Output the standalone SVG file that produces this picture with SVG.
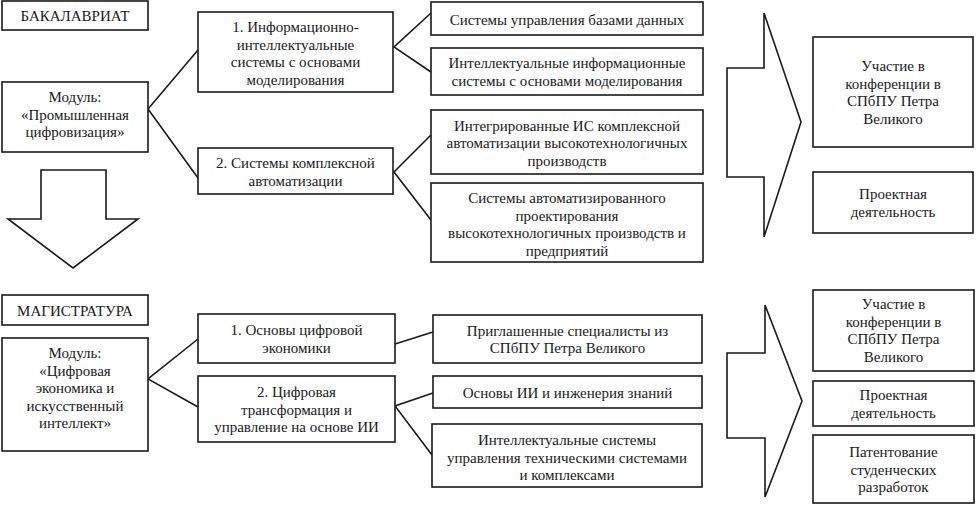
<svg xmlns="http://www.w3.org/2000/svg" width="976" height="521" viewBox="0 0 976 521">
<style>
.b{fill:#fff;stroke:#1a1a1a;stroke-width:1.6}
.a{fill:#fff;stroke:#1a1a1a;stroke-width:1.6;stroke-linejoin:miter}
.c{fill:none;stroke:#1a1a1a;stroke-width:1.6}
text{font-family:"Liberation Serif","Times New Roman",serif;font-size:15px;fill:#1a1a1a;text-anchor:middle}
</style>
<rect width="976" height="521" fill="#fff"/>
<g id="connectors">
<polyline class="c" points="198,50 148,109 198,178"/>
<polyline class="c" points="431,13 394,47 431,72"/>
<polyline class="c" points="431,135 394,172 431,220"/>
<polyline class="c" points="198,339 148,379 198,407"/>
<polyline class="c" points="433,332 395,344"/>
<polyline class="c" points="433,393 395,406 432,455"/>
</g>
<g id="arrow-down"><polygon class="a" points="41,170 106,170 106,219 138,219 73,268 8,219 41,219"/></g>
<g id="arrow-right-1"><polygon class="a" points="727,68 764,68 764,13 801,122 764,237 764,177 727,177"/></g>
<g id="arrow-right-2"><polygon class="a" points="727,353 765,353 765,305 802,401 765,497 765,438 727,438"/></g>
<g id="bak"><rect class="b" x="2" y="1" width="146" height="29"/><text x="75" y="21">БАКАЛАВРИАТ</text></g>
<g id="mod1"><rect class="b" x="2" y="82" width="146" height="70"/><text x="75" y="102">Модуль:</text><text x="75" y="119.5">«Промышленная</text><text x="75" y="137">цифровизация»</text></g>
<g id="b1"><rect class="b" x="198" y="12" width="195" height="80"/><text x="295.5" y="32">1. Информационно-</text><text x="295.5" y="49.5">интеллектуальные</text><text x="295.5" y="67">системы с основами</text><text x="295.5" y="84.5">моделирования</text></g>
<g id="b2"><rect class="b" x="198" y="148" width="195" height="46"/><text x="295.5" y="168">2. Системы комплексной</text><text x="295.5" y="185.5">автоматизации</text></g>
<g id="r1"><rect class="b" x="431" y="2" width="272" height="33"/><text x="567" y="24.5">Системы управления базами данных</text></g>
<g id="r2"><rect class="b" x="431" y="48" width="272" height="47"/><text x="567" y="68">Интеллектуальные информационные</text><text x="567" y="85.5">системы с основами моделирования</text></g>
<g id="r3"><rect class="b" x="431" y="110" width="272" height="64"/><text x="567" y="130.5">Интегрированные ИС комплексной</text><text x="567" y="148">автоматизации высокотехнологичных</text><text x="567" y="165.5">производств</text></g>
<g id="r4"><rect class="b" x="431" y="183" width="272" height="79"/><text x="567" y="203">Системы автоматизированного</text><text x="567" y="220.5">проектирования</text><text x="567" y="238">высокотехнологичных производств и</text><text x="567" y="255.5">предприятий</text></g>
<g id="o1"><rect class="b" x="813" y="37" width="160" height="110"/><text x="893" y="71">Участие в</text><text x="893" y="88.5">конференции в</text><text x="893" y="106">СПбПУ Петра</text><text x="893" y="123.5">Великого</text></g>
<g id="o2"><rect class="b" x="813" y="172" width="160" height="61"/><text x="893" y="199">Проектная</text><text x="893" y="216.5">деятельность</text></g>
<g id="mag"><rect class="b" x="2" y="295" width="146" height="30"/><text x="75" y="315.5">МАГИСТРАТУРА</text></g>
<g id="mod2"><rect class="b" x="2" y="338" width="146" height="113"/><text x="75" y="358">Модуль:</text><text x="75" y="375.5">«Цифровая</text><text x="75" y="393">экономика и</text><text x="75" y="410.5">искусственный</text><text x="75" y="428">интеллект»</text></g>
<g id="m1"><rect class="b" x="198" y="314" width="197" height="49"/><text x="296.5" y="335">1. Основы цифровой</text><text x="296.5" y="352.5">экономики</text></g>
<g id="m2"><rect class="b" x="198" y="376" width="197" height="66"/><text x="296.5" y="397">2. Цифровая</text><text x="296.5" y="414.5">трансформация и</text><text x="296.5" y="432">управление на основе ИИ</text></g>
<g id="s1"><rect class="b" x="433" y="315" width="269" height="48"/><text x="567.5" y="335.5">Приглашенные специалисты из</text><text x="567.5" y="353">СПбПУ Петра Великого</text></g>
<g id="s2"><rect class="b" x="433" y="376" width="269" height="32"/><text x="567.5" y="397.5">Основы ИИ и инженерия знаний</text></g>
<g id="s3"><rect class="b" x="432" y="424" width="270" height="63"/><text x="567" y="445">Интеллектуальные системы</text><text x="567" y="462.5">управления техническими системами</text><text x="567" y="480">и комплексами</text></g>
<g id="p1"><rect class="b" x="813" y="290" width="161" height="81"/><text x="893.5" y="309">Участие в</text><text x="893.5" y="326.5">конференции в</text><text x="893.5" y="344">СПбПУ Петра</text><text x="893.5" y="361.5">Великого</text></g>
<g id="p2"><rect class="b" x="813" y="381" width="161" height="45"/><text x="893.5" y="400">Проектная</text><text x="893.5" y="417.5">деятельность</text></g>
<g id="p3"><rect class="b" x="813" y="435" width="161" height="68"/><text x="893.5" y="457">Патентование</text><text x="893.5" y="474.5">студенческих</text><text x="893.5" y="492">разработок</text></g>
</svg>
